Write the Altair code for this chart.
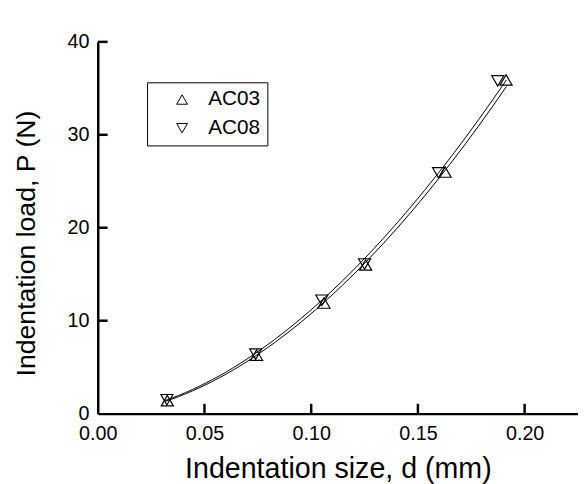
import altair as alt
import pandas as pd

series_names = ["AC03", "AC08"]
d_ac03 = [0.0326, 0.0744, 0.1060, 0.1255, 0.1627, 0.1913]
P_ac03 = [1.4, 6.3, 11.9, 16.0, 26.0, 35.9]
d_ac08 = [0.0324, 0.0740, 0.1050, 0.1250, 0.1597, 0.1874]
P_ac08 = [1.5, 6.4, 12.2, 16.1, 25.9, 35.8]
x_ticks = [0.0, 0.05, 0.10, 0.15, 0.20]
y_ticks = [0, 10, 20, 30, 40]
fit_extent = [0.0315, 0.1915]

df = pd.DataFrame({
    "d": d_ac03 + d_ac08,
    "P": P_ac03 + P_ac08,
    "series": [series_names[0]] * len(d_ac03) + [series_names[1]] * len(d_ac08),
})
xt_df = pd.DataFrame({"v": x_ticks[1:], "base": [0.0] * len(x_ticks[1:])})
yt_df = pd.DataFrame({"v": y_ticks[1:], "base": [0.0] * len(y_ticks[1:])})

FONT = "Liberation Sans"
xscale = alt.Scale(domain=[0, 0.225], nice=False, zero=True)
yscale = alt.Scale(domain=[0, 40], nice=False)

x_axis = alt.Axis(
    values=x_ticks, format=".2f", labelPadding=10, labelFlush=False,
    ticks=False, domainWidth=2.5, domainColor="black", grid=False,
    labelFont=FONT, labelFontSize=20, labelColor="black",
    title="Indentation size, d  (mm)", titleFontSize=29, titleFont=FONT,
    titleFontWeight="normal", titleColor="black",
    titleY=65, titleBaseline="alphabetic",
)
y_axis = alt.Axis(
    values=y_ticks, labelPadding=9,
    ticks=False, domainWidth=2.5, domainColor="black", grid=False,
    labelFont=FONT, labelFontSize=20, labelColor="black",
    title="Indentation load, P  (N)", titleFontSize=27, titleFont=FONT,
    titleFontWeight="normal", titleColor="black",
    titleX=-64, titleY=204, titleAngle=270, titleBaseline="alphabetic",
    titleAlign="center",
)

points = alt.Chart(df).mark_point(filled=False, size=150, strokeWidth=1.2, color="black", opacity=1).encode(
    x=alt.X("d:Q", scale=xscale, axis=x_axis),
    y=alt.Y("P:Q", scale=yscale, axis=y_axis),
    shape=alt.Shape(
        "series:N",
        scale=alt.Scale(domain=series_names, range=["triangle-up", "triangle-down"]),
        legend=alt.Legend(
            title=None, orient="none", legendX=50, legendY=41,
            strokeColor="black", fillColor="white", padding=7,
            symbolOffset=18, labelOffset=16, rowPadding=7,
            symbolStrokeColor="black", symbolFillColor="transparent",
            symbolStrokeWidth=1, symbolSize=120,
            labelFontSize=21, labelFont=FONT, labelColor="black",
        ),
    ),
)

lines = alt.Chart(df).transform_regression(
    "d", "P", groupby=["series"], method="pow", extent=fit_extent
).mark_line(color="black", strokeWidth=1).encode(
    x=alt.X("d:Q", scale=xscale),
    y=alt.Y("P:Q", scale=yscale),
    detail="series:N",
)

# inward tick marks, shifted so that they sit inside the plot area
x_tick_marks = alt.Chart(xt_df).mark_tick(
    orient="vertical", size=10, thickness=2.5, color="black", opacity=1, yOffset=-5
).encode(
    x=alt.X("v:Q", scale=xscale),
    y=alt.Y("base:Q", scale=yscale),
)

y_tick_marks = alt.Chart(yt_df).mark_tick(
    orient="horizontal", size=10, thickness=2.5, color="black", opacity=1, xOffset=5
).encode(
    y=alt.Y("v:Q", scale=yscale),
    x=alt.X("base:Q", scale=xscale),
)

chart = alt.layer(lines, points, x_tick_marks, y_tick_marks).properties(
    width=487, height=377,
    autosize=alt.AutoSizeParams(type="none"),
    padding={"left": 91, "top": 31, "right": 0, "bottom": 68},
).configure_view(stroke=None)

chart.save("out.html", embed_options={"renderer": "svg", "actions": False})
